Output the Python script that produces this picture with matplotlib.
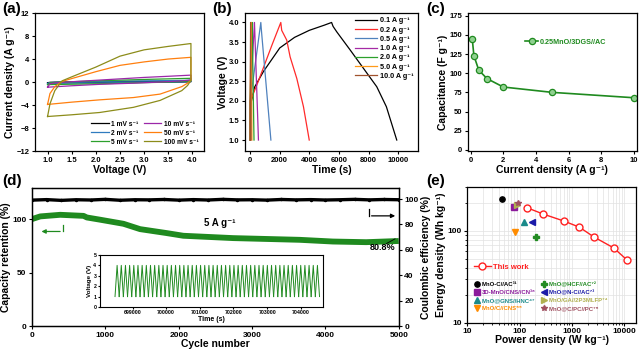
import numpy as np
import matplotlib
matplotlib.use('Agg')
import matplotlib.pyplot as plt
from matplotlib.ticker import FuncFormatter, NullFormatter

plt.rcParams['font.family'] = ['Liberation Sans', 'DejaVu Sans']
plt.rcParams['font.weight'] = 'bold'
plt.rcParams['axes.labelweight'] = 'bold'
plt.rcParams['axes.linewidth'] = 0.9
plt.rcParams['xtick.major.size'] = 2.5
plt.rcParams['ytick.major.size'] = 2.5
plt.rcParams['xtick.minor.size'] = 1.5
plt.rcParams['ytick.minor.size'] = 1.5

# ---------- (a) CV loops: voltage / current (upper branch then lower branch) ----------
cv_v = [1.0, 1.05, 1.15, 1.3, 1.5, 2.0, 2.5, 3.0, 3.5, 3.97,
        3.97, 3.9, 3.78, 3.33, 2.78, 2.08, 1.5, 1.0]
cv_labels = ['1 mV s⁻¹', '2 mV s⁻¹', '5 mV s⁻¹', '10 mV s⁻¹', '50 mV s⁻¹', '100 mV s⁻¹']
cv_colors = ['black', '#2f7bbf', '#2ca02c', '#9b27a8', '#ff7f0e', '#8c8c1a']
cv_i_1 = [-0.12, -0.05, -0.02, 0.0, 0.02, 0.05, 0.07, 0.1, 0.12, 0.15,
          0.05, 0.02, 0.0, -0.02, -0.05, -0.08, -0.1, -0.12]
cv_i_2 = [-0.25, -0.1, -0.05, 0.0, 0.03, 0.1, 0.15, 0.2, 0.25, 0.3,
          0.1, 0.05, 0.02, -0.03, -0.08, -0.15, -0.2, -0.25]
cv_i_5 = [-0.45, -0.15, -0.08, 0.0, 0.05, 0.2, 0.32, 0.45, 0.55, 0.65,
          0.25, 0.15, 0.1, -0.05, -0.15, -0.3, -0.38, -0.45]
cv_i_10 = [-0.9, -0.3, -0.15, -0.05, 0.05, 0.3, 0.55, 0.8, 1.0, 1.2,
           0.4, 0.3, 0.2, 0.0, -0.2, -0.4, -0.65, -0.9]
cv_i_50 = [-3.9, -2.0, -0.8, 0.1, 0.6, 1.8, 2.9, 3.5, 4.0, 4.3,
           0.3, -0.2, -0.8, -2.1, -2.7, -3.1, -3.5, -3.9]
cv_i_100 = [-6.0, -3.8, -1.5, 0.2, 0.9, 2.6, 4.5, 5.6, 6.2, 6.7,
            0.3, -0.6, -1.5, -3.2, -4.4, -5.3, -5.7, -6.0]
cv_currents = [cv_i_1, cv_i_2, cv_i_5, cv_i_10, cv_i_50, cv_i_100]

# ---------- (b) GCD curves ----------
gcd_labels = ['0.1 A g⁻¹', '0.2 A g⁻¹', '0.5 A g⁻¹', '1.0 A g⁻¹', '2.0 A g⁻¹', '5.0 A g⁻¹', '10.0 A g⁻¹']
gcd_colors = ['black', '#ff2a2a', '#4f81bd', '#a52aa5', '#2ca02c', '#ff9a1a', '#a0522d']
gcd_t = [
    [0, 30, 300, 900, 2000, 3000, 4000, 5000, 5500, 5600, 5850, 6750, 7650, 8550, 9200, 9900],
    [0, 20, 500, 1000, 1500, 2070, 2130, 2470, 2700, 3150, 3600, 3990],
    [0, 10, 720, 760, 1400],
    [0, 5, 290, 305, 560],
    [0, 3, 130, 140, 260],
    [0, 2, 60, 65, 120],
    [0, 1, 30, 33, 60],
]
gcd_v = [
    [1.0, 1.9, 2.35, 2.75, 3.35, 3.62, 3.8, 3.93, 4.0, 3.9, 3.76, 3.3, 2.83, 2.36, 1.85, 1.0],
    [1.0, 2.0, 2.45, 2.95, 3.45, 4.0, 3.8, 3.55, 3.12, 2.57, 1.85, 1.0],
    [1.0, 2.0, 4.0, 3.8, 1.0],
    [1.0, 2.0, 4.0, 3.85, 1.0],
    [1.0, 2.0, 4.0, 3.85, 1.0],
    [1.0, 2.0, 4.0, 3.85, 1.0],
    [1.0, 2.0, 4.0, 3.85, 1.0],
]

# ---------- (c) rate capability ----------
rate_j = [0.1, 0.2, 0.5, 1.0, 2.0, 5.0, 10.0]
rate_cap = [145, 123, 104, 93, 82, 75, 68]

# ---------- (d) cycling ----------
ret_cycle = [0, 113, 385, 703, 748, 930, 1247, 1473, 1836, 2063, 2743, 3650, 4103, 4556, 5000]
ret_value = [100, 102.5, 104, 103, 101.5, 99.4, 95.6, 90.6, 86.9, 84.4, 82.2, 80.6, 79, 78.4, 79.5]
ce_cycle = [0, 200, 400, 600, 800, 1000, 1200, 1400, 1600, 1800, 2000, 2200, 2400, 2600,
            2800, 3000, 3200, 3400, 3600, 3800, 4000, 4200, 4400, 4600, 4800, 5000]
ce_value = [99.2, 99.6, 99.0, 99.5, 99.3, 99.8, 99.1, 99.5, 99.4, 99.7, 99.2, 99.6, 99.3,
            99.8, 99.4, 99.5, 99.2, 99.7, 99.4, 99.6, 99.3, 99.5, 99.8, 99.4, 99.7, 99.5]
# inset: one charge/discharge cycle repeated
cyc_t = [0, 62, 124]
cyc_v = [1.0, 4.0, 1.0]
inset_start = 698480
n_cycles = 49

# ---------- (e) Ragone ----------
this_p = [139, 281, 711, 1393, 2650, 6300, 11300]
this_e = [179, 153, 128, 110, 86, 65.5, 48.5]
ref_labels = ['MnO-C//AC³¹', '3D-MnO/CNS//CN³⁸', 'MnO@GNS//HNC⁴⁷', 'MnO/C//CNS⁵⁵',
              'MnO@HCF//AC⁷²', 'MnO@N-C//AC⁷³', 'MnO/GA//2P3MLFP⁷⁴', 'MnO@C/PC//PC⁷⁵']
ref_p = [46, 79, 121, 82, 204, 174, 89, 95]
ref_e = [220, 183, 126, 98, 87, 124, 193, 200]
ref_markers = ['o', 's', '^', 'v', 'P', '<', '>', '*']
ref_colors = ['black', '#8b1a9b', '#1a8a8a', '#ff8c00', '#228b22', '#1a1aa8', '#b0b050', '#a05060']

fig = plt.figure(figsize=(6.4, 3.51), dpi=100)
tick_fs = 5.5
lab_fs = 7.5

# (a)
ax = fig.add_axes([0.0547, 0.5698, 0.264, 0.393])
for cur, lab, col in zip(cv_currents, cv_labels, cv_colors):
    ax.plot(cv_v, cur, color=col, lw=0.9, label=lab)
ax.set_xlim(0.74, 4.24)
ax.set_ylim(-12, 12)
ax.set_xticks([1.0, 1.5, 2.0, 2.5, 3.0, 3.5, 4.0])
ax.set_yticks([-12, -8, -4, 0, 4, 8, 12])
ax.tick_params(labelsize=tick_fs, pad=1.5)
ax.set_xlabel('Voltage (V)', fontsize=lab_fs, labelpad=1)
ax.set_ylabel('Current density (A g⁻¹)', fontsize=lab_fs, labelpad=1)
ax.legend(ncol=2, loc='lower right', frameon=False, fontsize=4.8, handlelength=2.6,
          columnspacing=0.8, labelspacing=0.3, handletextpad=0.4, borderaxespad=0.4)

# (b)
ax = fig.add_axes([0.383, 0.5698, 0.270, 0.393])
for t, v, lab, col in zip(gcd_t, gcd_v, gcd_labels, gcd_colors):
    ax.plot(t, v, color=col, lw=0.9, label=lab)
ax.set_xlim(-340, 11330)
ax.set_ylim(0.72, 4.24)
ax.set_xticks([0, 2000, 4000, 6000, 8000, 10000])
ax.set_yticks([1.0, 1.5, 2.0, 2.5, 3.0, 3.5, 4.0])
ax.tick_params(labelsize=tick_fs, pad=1.5)
ax.set_xlabel('Time (s)', fontsize=lab_fs, labelpad=1)
ax.set_ylabel('Voltage (V)', fontsize=lab_fs, labelpad=1)
ax.legend(loc='upper right', frameon=False, fontsize=5.2, handlelength=3.0,
          labelspacing=0.3, handletextpad=0.4, borderaxespad=0.2)

# (c)
ax = fig.add_axes([0.731, 0.5698, 0.264, 0.393])
ax.plot(rate_j, rate_cap, color='#1f8a1f', lw=1.2, marker='o', ms=4.5,
        mfc='#8fd08f', mec='#1f8a1f', mew=0.9, label='0.25MnO/3DGS//AC')
ax.set_xlim(-0.17, 10.18)
ax.set_ylim(-1.5, 178.5)
ax.set_xticks([0, 2, 4, 6, 8, 10])
ax.set_yticks([0, 25, 50, 75, 100, 125, 150, 175])
ax.tick_params(labelsize=tick_fs, pad=1.5)
ax.set_xlabel('Current density (A g⁻¹)', fontsize=lab_fs, labelpad=1)
ax.set_ylabel('Capacitance (F g⁻¹)', fontsize=lab_fs, labelpad=1)
ax.legend(loc='center left', bbox_to_anchor=(0.3, 0.79), frameon=False, fontsize=5.2,
          handlelength=1.8, handletextpad=0.3, labelcolor='#1f8a1f')

# (d)
ax = fig.add_axes([0.05, 0.0712, 0.573, 0.393])
ax.plot(ret_cycle, ret_value, color='#1f8a1f', lw=4.2, solid_capstyle='butt')
ax.set_xlim(0, 5000)
ax.set_ylim(0, 129)
ax.set_xticks([0, 1000, 2000, 3000, 4000, 5000])
ax.set_yticks([0, 50, 100])
ax.tick_params(labelsize=6, pad=1.5)
ax.set_xlabel('Cycle number', fontsize=lab_fs, labelpad=0)
ax.set_ylabel('Capacity retention (%)', fontsize=lab_fs, labelpad=1)
ax.plot([421, 421], [94.7, 88.4], color='#1f8a1f', lw=0.9)
ax.annotate('', xy=(91, 88.4), xytext=(421, 88.4),
            arrowprops=dict(arrowstyle='-|>', color='#1f8a1f', lw=0.9, mutation_scale=6))
ax.plot([4592, 4592], [109, 103], color='black', lw=0.9)
ax.annotate('', xy=(4990, 103), xytext=(4592, 103),
            arrowprops=dict(arrowstyle='-|>', color='black', lw=0.9, mutation_scale=6))
ax.text(2560, 96, '5 A g⁻¹', fontsize=7, ha='center', va='center')
ax.text(4782, 73.5, '80.8%', fontsize=6.5, ha='center', va='center')
ax.plot([4830, 4950], [77, 81.5], color='black', lw=0.6)

ax2 = ax.twinx()
ax2.plot(ce_cycle, ce_value, color='black', lw=2.4, marker='o', ms=1.5)
ax2.set_ylim(0, 108.7)
ax2.set_yticks([0, 20, 40, 60, 80, 100])
ax2.tick_params(labelsize=6, pad=1.5)
ax2.set_ylabel('Coulombic efficiency (%)', fontsize=lab_fs, labelpad=2)

ins = ax.inset_axes([0.185, 0.138, 0.608, 0.377])
for k in range(n_cycles):
    ins.plot([inset_start + k * cyc_t[-1] + t for t in cyc_t], cyc_v, color='#1f8a1f', lw=0.7)
ins.set_xlim(698029, 704654)
ins.set_ylim(0, 5)
ins.set_xticks([699000, 700000, 701000, 702000, 703000, 704000])
ins.set_yticks([0, 1, 2, 3, 4, 5])
ins.tick_params(labelsize=3.8, pad=1, length=1.5)
ins.set_xlabel('Time (s)', fontsize=5, labelpad=0.5)
ins.set_ylabel('Voltage (V)', fontsize=4.5, labelpad=1)
for s in ins.spines.values():
    s.set_linewidth(0.8)

# (e)
ax = fig.add_axes([0.730, 0.080, 0.264, 0.387])
ax.set_xscale('log')
ax.set_yscale('log')
ax.grid(True, which='both', color='#e2e2e2', lw=0.5)
ax.set_axisbelow(True)
l1, = ax.plot(this_p, this_e, color='#ff2020', lw=1.0, marker='o', ms=5,
              mfc='white', mec='#ff2020', mew=1.0, label='This work')
handles = []
for p, e, m, c, lab in zip(ref_p, ref_e, ref_markers, ref_colors, ref_labels):
    h, = ax.plot([p], [e], ls='none', marker=m, color=c, ms=3.8, label=lab)
    handles.append(h)
ax.set_xlim(10, 17000)
ax.set_ylim(10, 300)
plain = FuncFormatter(lambda v, pos: '%d' % round(v))
ax.xaxis.set_major_formatter(plain)
ax.yaxis.set_major_formatter(plain)
ax.xaxis.set_minor_formatter(NullFormatter())
ax.yaxis.set_minor_formatter(NullFormatter())
ax.tick_params(labelsize=6, pad=1.5)
ax.set_xlabel('Power density (W kg⁻¹)', fontsize=lab_fs, labelpad=0)
ax.set_ylabel('Energy density (Wh kg⁻¹)', fontsize=lab_fs, labelpad=1)
leg1 = ax.legend(handles=[l1], loc='center left', bbox_to_anchor=(0.0, 0.41), frameon=False,
                 fontsize=5.5, labelcolor='#ff2020', handlelength=2.2, handletextpad=0.3)
ax.add_artist(leg1)
ax.legend(handles=handles, ncol=2, loc='upper left',
          bbox_to_anchor=(0.03, 0.32), frameon=False, fontsize=4.3,
          labelcolor='markerfacecolor', handlelength=0.8, handletextpad=0.4,
          columnspacing=1.0, labelspacing=0.45, borderaxespad=0)

for x, y, s in [(0.003, 0.995, '(a)'), (0.331, 0.995, '(b)'), (0.666, 0.995, '(c)'),
                (0.003, 0.505, '(d)'), (0.666, 0.505, '(e)')]:
    fig.text(x, y, s, fontsize=11, fontweight='bold', va='top', ha='left')

fig.savefig('out.png', dpi=100)
